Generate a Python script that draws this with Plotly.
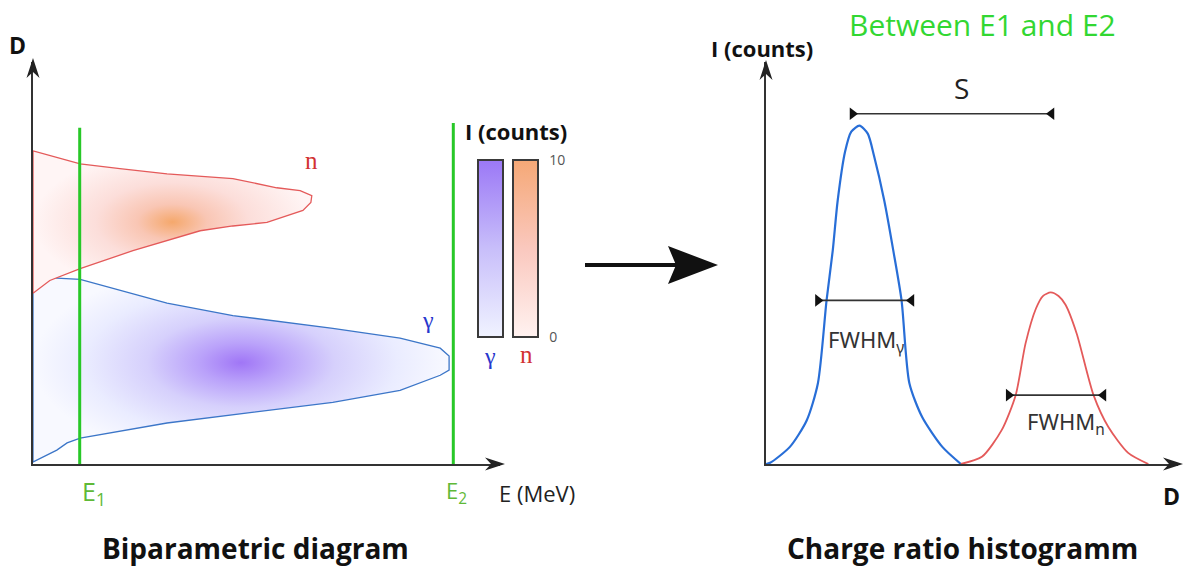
import plotly.graph_objects as go

W, H = 1184, 570

# ---------------- data: biparametric diagram (E vs D) ----------------
n_E = [0, 1.01, 1.86, 2.87, 4.28, 5.22, 5.72, 5.97, 5.95, 5.78, 5.01, 4.28, 3.58, 2.87, 2.14, 1.01, 0.36, 0, 0]
n_D = [7.87, 7.54, 7.42, 7.29, 7.17, 6.94, 6.87, 6.74, 6.57, 6.37, 6.07, 5.98, 5.86, 5.61, 5.36, 4.91, 4.61, 4.29, 7.87]

gamma_E = [0, 0.21, 1.01, 1.86, 2.87, 4.28, 6.42, 7.86, 8.72, 8.91, 8.91, 8.72, 7.86, 6.42, 5.01, 2.87, 1.01, 0.73, 0.51, 0, 0]
gamma_D = [5.04, 4.69, 4.64, 4.36, 4.04, 3.73, 3.41, 3.16, 2.91, 2.71, 2.36, 2.23, 1.85, 1.55, 1.35, 1.03, 0.65, 0.53, 0.35, 0.05, 5.04]

E_cuts = [1.0, 9.0]
E_cut_top = [8.45, 8.57]
I_scale = [0, 10]

# ---------------- data: charge ratio histogram (D vs I) ----------------
blue_D = [0, 0.10, 0.58, 0.99, 1.26, 1.47, 1.62, 1.74, 1.92, 2.07, 2.27, 2.47, 2.62, 2.87, 3.09, 3.29, 3.48, 3.79, 4.28, 4.73]
blue_I = [0, 0.03, 0.43, 1.10, 2.03, 4.11, 5.36, 6.62, 7.85, 8.35, 8.50, 8.30, 7.75, 6.62, 5.36, 4.11, 2.03, 1.18, 0.43, 0]

red_D = [4.73, 5.24, 5.72, 6.06, 6.30, 6.55, 6.72, 6.91, 7.10, 7.27, 7.54, 7.95, 8.31, 8.79, 9.28]
red_I = [0, 0.18, 0.85, 1.73, 3.03, 3.90, 4.22, 4.31, 4.22, 4.00, 3.28, 1.73, 0.93, 0.28, 0]

S_D = [2.10, 6.93]
S_I = 8.8
fwhm_gamma_D = [1.26, 3.53]
fwhm_gamma_I = 4.11
fwhm_n_D = [5.89, 8.19]
fwhm_n_I = 1.73

# ---------------- colours ----------------
GREEN = "rgb(40,200,40)"
LABEL_GREEN = "rgb(95,185,55)"
BLUE_LINE = "rgb(60,118,200)"
RED_LINE = "rgb(228,90,90)"

gamma_scale = [[0, "rgba(160,118,246,1)"], [0.2, "rgba(186,162,250,1)"], [0.45, "rgba(214,208,252,1)"],
               [0.75, "rgba(234,236,255,1)"], [1, "rgba(248,249,255,1)"]]
n_scale = [[0, "rgba(245,168,108,1)"], [0.25, "rgba(249,198,180,1)"], [0.55, "rgba(252,222,218,1)"],
           [1, "rgba(255,245,245,1)"]]
gamma_bar = [[0, "rgb(240,243,255)"], [0.5, "rgb(200,190,250)"], [1, "rgb(155,120,246)"]]
n_bar = [[0, "rgb(255,242,240)"], [0.5, "rgb(250,200,190)"], [1, "rgb(245,168,118)"]]

fig = go.Figure()

# blobs
fig.add_trace(go.Scatter(x=gamma_E, y=gamma_D, mode="lines", fill="toself",
                         fillgradient=dict(type="radial", colorscale=gamma_scale),
                         line=dict(color=BLUE_LINE, width=1.3), xaxis="x", yaxis="y", hoverinfo="skip"))
fig.add_trace(go.Scatter(x=n_E, y=n_D, mode="lines", fill="toself",
                         fillgradient=dict(type="radial", colorscale=n_scale),
                         line=dict(color=RED_LINE, width=1.3), xaxis="x", yaxis="y", hoverinfo="skip"))

# E cuts
for e, top in zip(E_cuts, E_cut_top):
    fig.add_trace(go.Scatter(x=[e, e], y=[0, top], mode="lines", line=dict(color=GREEN, width=3),
                             xaxis="x", yaxis="y", hoverinfo="skip"))

# colour bars (I counts)
bar_common = dict(lenmode="pixels", len=177, thicknessmode="pixels", thickness=25,
                  yanchor="top", y=1 - 160 / H, xanchor="left", xpad=0, ypad=0,
                  outlinewidth=2, outlinecolor="#3a3a3a", tickvals=I_scale)
fig.add_trace(go.Scatter(x=[-5], y=[-5], mode="markers", xaxis="x", yaxis="y", hoverinfo="skip",
                         marker=dict(size=1, color=[0], cmin=I_scale[0], cmax=I_scale[1], colorscale=gamma_bar,
                                     showscale=True,
                                     colorbar=dict(x=478 / W, showticklabels=False, ticks="", **bar_common))))
fig.add_trace(go.Scatter(x=[-5], y=[-5], mode="markers", xaxis="x", yaxis="y", hoverinfo="skip",
                         marker=dict(size=1, color=[0], cmin=I_scale[0], cmax=I_scale[1], colorscale=n_bar,
                                     showscale=True,
                                     colorbar=dict(x=513 / W, ticks="outside", ticklen=8,
                                                   tickcolor="rgba(0,0,0,0)",
                                                   ticktext=[str(v) for v in I_scale],
                                                   tickfont=dict(family="Open Sans", size=14, color="#555"),
                                                   **bar_common))))

# histogram curves
fig.add_trace(go.Scatter(x=blue_D, y=blue_I, mode="lines", line=dict(color="rgb(40,110,215)", width=2.2,
                         shape="spline", smoothing=0.7), xaxis="x2", yaxis="y2", hoverinfo="skip"))
fig.add_trace(go.Scatter(x=red_D, y=red_I, mode="lines", line=dict(color=RED_LINE, width=1.8,
                         shape="spline", smoothing=0.7), xaxis="x2", yaxis="y2", hoverinfo="skip"))

# S and FWHM markers
for xs, yv in [(S_D, S_I), (fwhm_gamma_D, fwhm_gamma_I), (fwhm_n_D, fwhm_n_I)]:
    fig.add_trace(go.Scatter(x=xs, y=[yv, yv], mode="lines+markers",
                             line=dict(color="#333", width=1.6),
                             marker=dict(symbol=["triangle-right", "triangle-left"], size=11, color="#111"),
                             cliponaxis=False, xaxis="x2", yaxis="y2", hoverinfo="skip"))


def arrowhead(tx, ty, direction, L=20, hw=6.5, notch=6, color="#222"):
    if direction == "up":
        pts = [(tx, ty), (tx - hw, ty + L), (tx, ty + L - notch), (tx + hw, ty + L)]
    else:
        pts = [(tx, ty), (tx - L, ty - hw), (tx - L + notch, ty), (tx - L, ty + hw)]
    path = "M " + " L ".join(f"{x / W:.5f},{1 - y / H:.5f}" for x, y in pts) + " Z"
    return dict(type="path", xref="paper", yref="paper", path=path, fillcolor=color,
                line=dict(width=0), layer="above")


shapes = [
    arrowhead(33, 58, "up"), arrowhead(505, 464, "right"),
    arrowhead(766, 60, "up"), arrowhead(1183, 464, "right"),
    dict(type="line", xref="paper", yref="paper", x0=585 / W, x1=680 / W, y0=1 - 265 / H, y1=1 - 265 / H,
         line=dict(color="#111", width=4)),
    arrowhead(718, 265, "right", L=50, hw=19, notch=8, color="#111"),
]


def T(text, x, y, size, color="#111", family="Open Sans", bold=False):
    if bold:
        text = f"<b>{text}</b>"
    return dict(text=text, x=x / W, y=1 - y / H, xref="paper", yref="paper", showarrow=False,
                xanchor="center", yanchor="middle", font=dict(size=size, color=color, family=family))


annotations = [
    T("D", 17, 45, 23, bold=True),
    T("n", 311, 160, 25, "rgb(210,50,50)", "Liberation Serif"),
    T("γ", 428, 320, 24, "rgb(40,55,205)", "Liberation Serif"),
    T("I (counts)", 516, 131, 22, bold=True),
    T("γ", 490, 356, 24, "rgb(40,55,205)", "Liberation Serif"),
    T("n", 526, 354, 25, "rgb(210,50,50)", "Liberation Serif"),
    T("E<sub>1</sub>", 94, 492, 25, LABEL_GREEN),
    T("E<sub>2</sub>", 456, 492, 22, LABEL_GREEN),
    T("E (MeV)", 537, 493, 22, "#222"),
    T("Biparametric diagram", 255, 548, 28, bold=True),
    T("Between E1 and E2", 982, 24, 30, "rgb(50,215,50)"),
    T("I (counts)", 762, 48, 22, bold=True),
    T("S", 961, 88, 28, "#222"),
    T("FWHM<sub>γ</sub>", 866, 341, 22, "#333", "Noto Sans"),
    T("FWHM<sub>n</sub>", 1066, 423, 22, "#333", "Noto Sans"),
    T("D", 1171, 496, 23, bold=True),
    T("Charge ratio histogramm", 962, 548, 28, bold=True),
]

ax_common = dict(showgrid=False, zeroline=False, showticklabels=False, ticks="",
                 showline=True, linecolor="#333", linewidth=2, fixedrange=True)
fig.update_layout(
    width=W, height=H, margin=dict(l=0, r=0, t=0, b=0),
    paper_bgcolor="white", plot_bgcolor="white", showlegend=False,
    xaxis=dict(domain=[33 / W, 500 / W], range=[0, 10], anchor="y", **ax_common),
    yaxis=dict(domain=[1 - 464 / H, 1 - 62 / H], range=[0, 10.1], anchor="x", **ax_common),
    xaxis2=dict(domain=[766 / W, 1178 / W], range=[0, 10], anchor="y2", **ax_common),
    yaxis2=dict(domain=[1 - 464 / H, 1 - 62 / H], range=[0, 10.1], anchor="x2", **ax_common),
    shapes=shapes, annotations=annotations,
)

fig.write_html("out.html")
